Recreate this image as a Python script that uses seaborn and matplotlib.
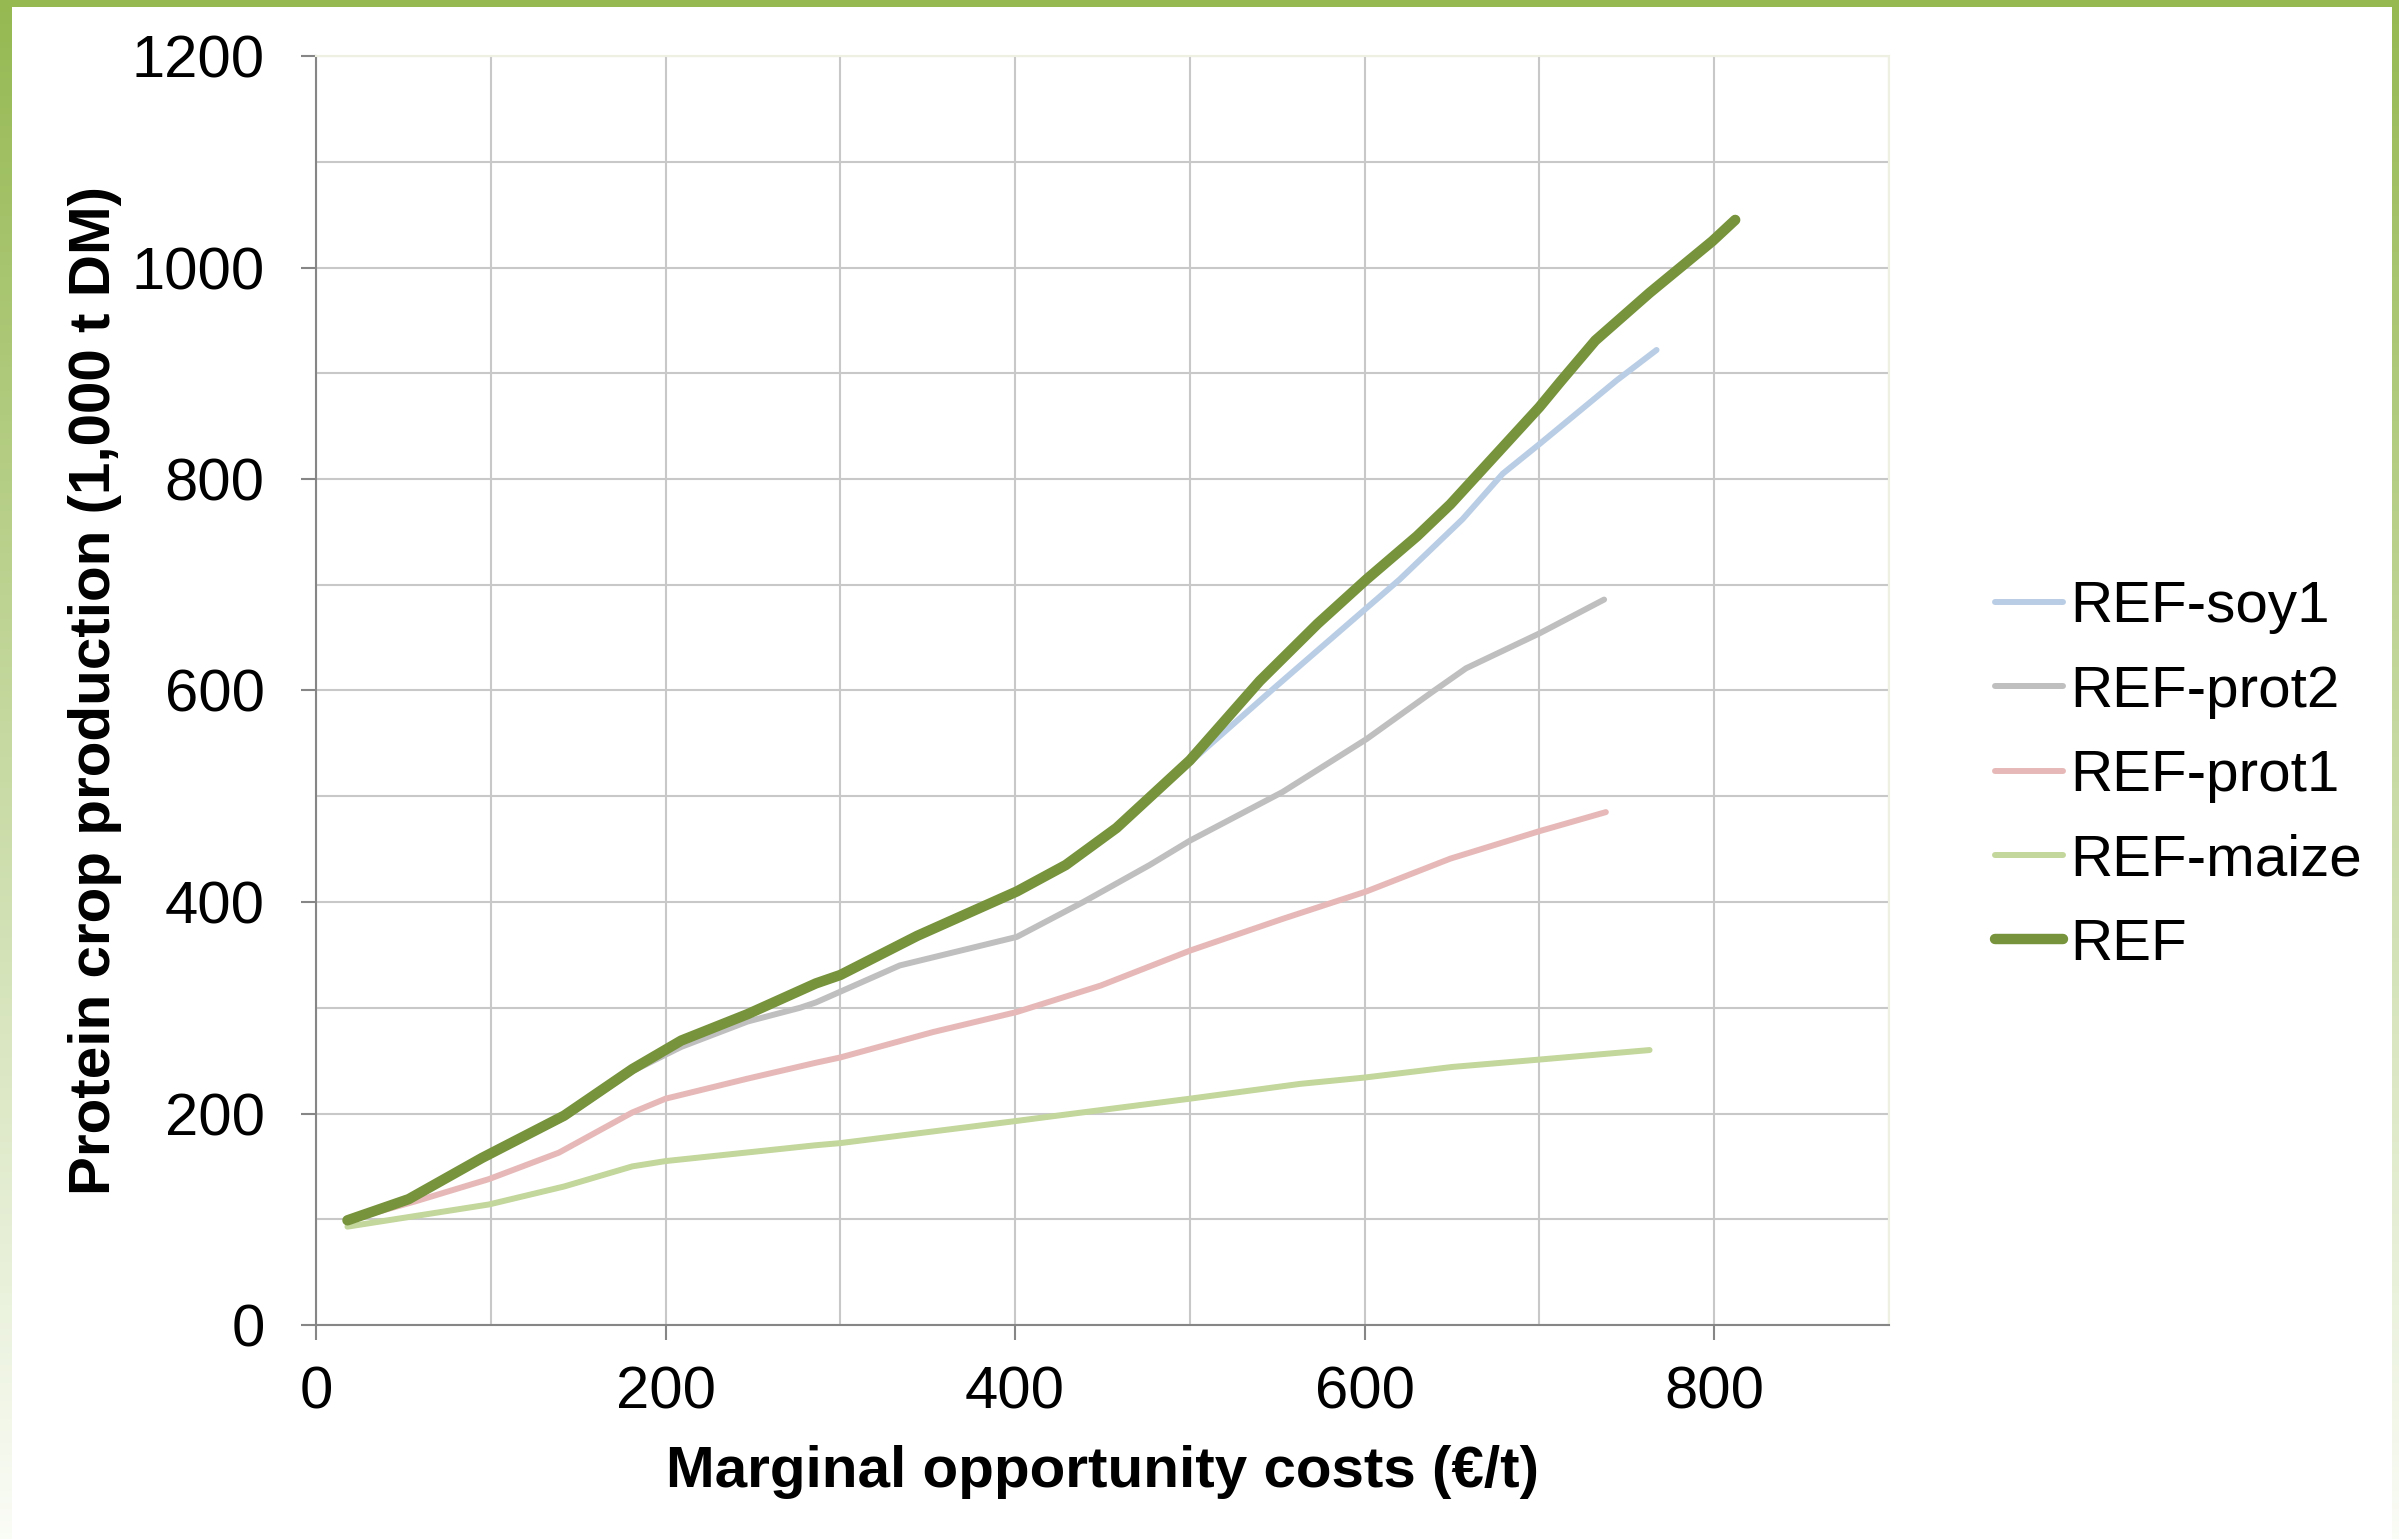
import numpy as np
import pandas as pd
import seaborn as sns
import matplotlib.pyplot as plt
from matplotlib.ticker import MultipleLocator

# values
x_soy1 = [18, 53, 95, 142, 181, 209, 247, 286, 300, 344, 401, 429, 458, 500, 548, 592, 620, 656, 679, 700, 744, 767]
y_soy1 = [99, 119, 158, 198, 242, 269, 294, 323, 331, 368, 410, 435, 470, 532, 602, 665, 705, 762, 805, 833, 893, 922]

x_prot2 = [18, 53, 95, 142, 181, 209, 247, 277, 286, 334, 401, 439, 477, 500, 553, 601, 639, 658, 700, 737]
y_prot2 = [99, 118, 157, 196, 240, 263, 287, 300, 305, 340, 367, 400, 435, 458, 504, 554, 599, 621, 654, 686]

x_prot1 = [18, 57, 99, 139, 181, 200, 247, 286, 300, 353, 401, 449, 500, 553, 601, 649, 700, 738]
y_prot1 = [99, 117, 138, 163, 201, 214, 233, 248, 253, 277, 296, 321, 354, 384, 410, 441, 467, 485]

x_maize = [18, 99, 142, 181, 200, 286, 300, 401, 429, 500, 563, 600, 650, 700, 763]
y_maize = [93, 114, 131, 150, 155, 170, 172, 193, 199, 214, 228, 234, 244, 251, 260]

x_ref = [18, 53, 95, 142, 181, 209, 247, 286, 300, 344, 401, 429, 458, 500, 540, 573, 601, 630, 649, 700, 712, 732, 763, 799, 812]
y_ref = [99, 119, 158, 198, 242, 269, 294, 323, 331, 368, 410, 435, 470, 534, 609, 663, 705, 746, 776, 868, 892, 931, 976, 1025, 1045]

series = ['REF-soy1', 'REF-prot2', 'REF-prot1', 'REF-maize', 'REF']
xs = [x_soy1, x_prot2, x_prot1, x_maize, x_ref]
ys = [y_soy1, y_prot2, y_prot1, y_maize, y_ref]
colors = ['#B9CDE5', '#BFBFBF', '#E6B9B8', '#C3D69B', '#77933C']
widths = [4.3, 4.3, 4.3, 4.3, 7.5]

sns.set_style('white')
plt.rcParams['font.family'] = ['Liberation Sans', 'DejaVu Sans']
plt.rcParams['text.color'] = 'black'
plt.rcParams['axes.labelcolor'] = 'black'
plt.rcParams['xtick.color'] = 'black'
plt.rcParams['ytick.color'] = 'black'

fig = plt.figure(figsize=(23.99, 15.39), dpi=100)
W, H = 2399, 1539
ax = fig.add_axes([316 / W, 1 - 1325 / H, (1889 - 316) / W, (1325 - 56) / H])

for name, x, y, c, lw in zip(series, xs, ys, colors, widths):
    d = pd.DataFrame({'x': x, 'y': y})
    sns.lineplot(data=d, x='x', y='y', ax=ax, color=c, linewidth=lw,
                 label=name, estimator=None, solid_capstyle='round',
                 solid_joinstyle='round')

ax.set_xlim(0, 900)
ax.set_ylim(0, 1200)
ax.xaxis.set_major_locator(MultipleLocator(200))
ax.xaxis.set_minor_locator(MultipleLocator(100))
ax.yaxis.set_major_locator(MultipleLocator(200))
ax.yaxis.set_minor_locator(MultipleLocator(100))
ax.grid(True, which='both', color='#C8C8C8', linewidth=1.5)
ax.set_axisbelow(True)
ax.tick_params(axis='both', which='major', labelsize=43, length=11, width=1.5,
               color='#868686', labelcolor='black', direction='out',
               left=True, bottom=True)
ax.tick_params(axis='x', which='major', pad=18)
ax.tick_params(axis='y', which='major', pad=26)
ax.tick_params(which='minor', length=0)
for side in ['left', 'bottom']:
    ax.spines[side].set_color('#868686')
    ax.spines[side].set_linewidth(1.5)
for side in ['top', 'right']:
    ax.spines[side].set_color('#EEF0E2')
    ax.spines[side].set_linewidth(1.5)

ax.set_xlabel('Marginal opportunity costs (€/t)', fontsize=42, fontweight='bold', color='black')
ax.set_ylabel('Protein crop production (1,000 t DM)', fontsize=42, fontweight='bold', color='black')
ax.xaxis.set_label_coords(0.5, (1325 - 1472) / (1325 - 56))
ax.xaxis.label.set_va('center')
ax.yaxis.set_label_coords((95 - 316) / (1889 - 316), 0.5)
ax.yaxis.label.set_va('center')

ax.get_legend().remove()
h, l = ax.get_legend_handles_labels()
fig.legend(h, l, loc='center left', bbox_to_anchor=(1995 / W, 1 - 776 / H),
           frameon=False, fontsize=42, handlelength=1.17, handletextpad=0.12,
           labelspacing=0.52, borderpad=0, borderaxespad=0, labelcolor='black')

# green frame: solid top bar, fading side bars
grad = np.linspace(0, 1, 256)[:, None]
c0 = np.array([150, 185, 82]) / 255
c1 = np.array([250, 252, 246]) / 255
img = c0[None, None, :] * (1 - grad[:, :, None]) + c1[None, None, :] * grad[:, :, None]
for rect in ([0, 0, 12 / W, 1], [2392 / W, 0, 7 / W, 1]):
    gax = fig.add_axes(rect)
    gax.imshow(img, aspect='auto', extent=[0, 1, 0, 1])
    gax.axis('off')
tax = fig.add_axes([0, 1 - 7 / H, 1, 7 / H])
tax.set_facecolor('#96B952')
tax.set_xticks([])
tax.set_yticks([])
for s in tax.spines.values():
    s.set_visible(False)

fig.savefig('out.png', dpi=100)
